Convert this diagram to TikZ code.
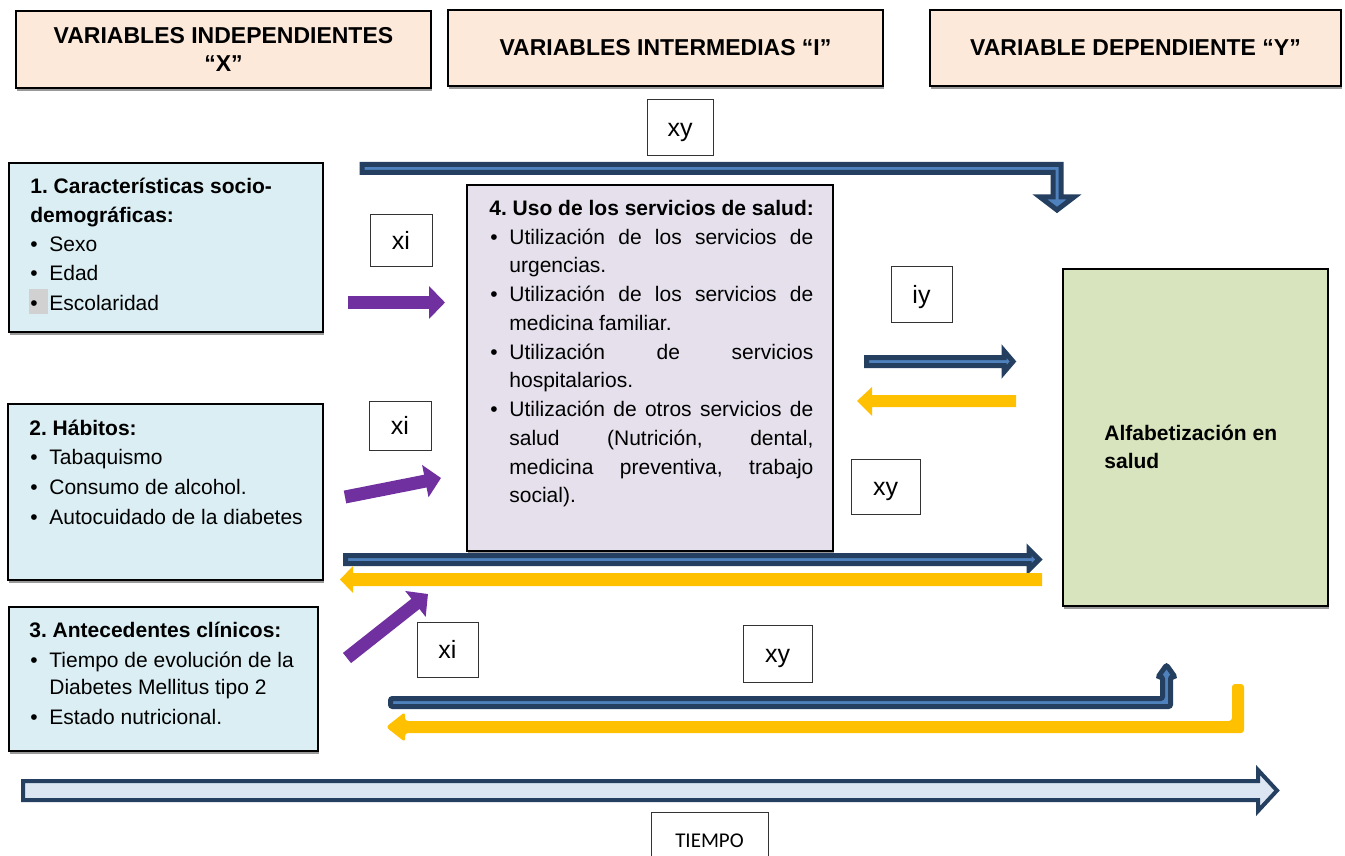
\documentclass[tikz,border=0pt]{standalone}
\usepackage{fontspec}
\setmainfont{Liberation Sans}
\newfontfamily\calfont{Carlito}
\usetikzlibrary{arrows.meta,shadows}
\definecolor{peach}{HTML}{FDE9D9}
\definecolor{lblue}{HTML}{DAEEF3}
\definecolor{lav}{HTML}{E5E0EC}
\definecolor{lgreen}{HTML}{D7E4BD}
\definecolor{bnavy}{HTML}{243F60}
\definecolor{bmid}{HTML}{4F81BD}
\definecolor{yel}{HTML}{FFC000}
\definecolor{purp}{HTML}{7030A0}
\definecolor{tfill}{HTML}{DCE6F2}
\frenchspacing
\newcommand\bodyfs{\fontsize{10.5pt}{13pt}\selectfont}
\newcommand\hdrfs{\fontsize{11.5pt}{14pt}\selectfont\bfseries}
\newcommand\labfs{\fontsize{12.5pt}{14pt}\selectfont}
\newcommand\bul{\makebox[9.5pt][l]{\textbullet}}
\newcommand\jline[1]{\makebox[152pt][s]{#1}}
\begin{document}
\begin{tikzpicture}[x=0.5pt,y=-0.5pt,
  shd/.style={drop shadow={shadow xshift=0.6pt,shadow yshift=-1.6pt,fill=black!40,opacity=1}},
  hdr/.style={shd,draw=black,line width=0.75pt,fill=peach,inner sep=0pt,align=center,font=\hdrfs},
  vbox/.style={shd,draw=black,line width=0.9pt,inner sep=0pt},
  lab/.style={draw=black!80,line width=0.5pt,fill=white,inner sep=0pt,font=\labfs,text height=10pt,text depth=1pt},
  ln/.style={anchor=base west,inner sep=0pt,font=\bodyfs},
  barrow/.style={fill=bmid,draw=bnavy,line width=2.5pt,line join=miter},
  yarrow/.style={fill=yel,draw=none},
  parrow/.style={draw=purp,line width=6.5pt,-{Triangle[width=16pt,length=8pt]}},
]
\clip (0,0) rectangle (1345,856);
\fill[white] (0,0) rectangle (1345,856);

% headers
\node[hdr,minimum width=207.5pt,minimum height=38.5pt] (h1) at (223.5,49.5) {VARIABLES INDEPENDIENTES\\“X”};
\node[hdr,minimum width=217.5pt,minimum height=38pt] (h2) at (665.5,48) {VARIABLES INTERMEDIAS “I”};
\node[hdr,minimum width=205.5pt,minimum height=38pt] (h3) at (1135.5,48) {VARIABLE DEPENDIENTE “Y”};

% left boxes
\node[vbox,fill=lblue,minimum width=157pt,minimum height=84.5pt] (b1) at (166,247.5) {};
\node[vbox,fill=lblue,minimum width=157.5pt,minimum height=88pt] (b2) at (165.5,492) {};
\node[vbox,fill=lblue,minimum width=154.5pt,minimum height=72pt] (b3) at (163.5,679) {};
% centre and right boxes
\node[vbox,fill=lav,minimum width=183pt,minimum height=183pt] (c) at (650,368) {};
\node[vbox,fill=lgreen,minimum width=132.5pt,minimum height=168.5pt] (g) at (1195.5,437.5) {};

% highlight behind bullet
\fill[black!18] (29,289) rectangle (48,314);

% box 1 text
\node[ln] (t11) at (30,193) {\bfseries 1. Características socio-};
\node[ln] (t12) at (30,222) {\bfseries demográficas:};
\node[ln] (t13) at (30,251) {\bul Sexo};
\node[ln] (t14) at (30,280) {\bul Edad};
\node[ln] (t15) at (30,310) {\bul Escolaridad};
% box 2 text
\node[ln] (t21) at (29,435) {\bfseries 2. Hábitos:};
\node[ln] (t22) at (30,464) {\bul Tabaquismo};
\node[ln] (t23) at (30,494) {\bul Consumo de alcohol.};
\node[ln] (t24) at (30,524) {\bul Autocuidado de la diabetes};
% box 3 text
\node[ln] (t31) at (29,637) {\bfseries 3. Antecedentes clínicos:};
\node[ln] (t32) at (30,667) {\bul Tiempo de evolución de la};
\node[ln] (t33) at (49,694) {Diabetes Mellitus tipo 2};
\node[ln] (t34) at (30,724) {\bul Estado nutricional.};
% centre text
\node[ln] (c0) at (489,215) {\bfseries 4. Uso de los servicios de salud:};
\node[ln] (c1) at (490,244) {\bul\jline{Utilización de los servicios de}};
\node[ln] (c2) at (509,272.75) {urgencias.};
\node[ln] (c3) at (490,301.5) {\bul\jline{Utilización de los servicios de}};
\node[ln] (c4) at (509,330.25) {medicina familiar.};
\node[ln] (c5) at (490,359) {\bul\jline{Utilización de servicios}};
\node[ln] (c6) at (509,387.75) {hospitalarios.};
\node[ln] (c7) at (490,416.5) {\bul\jline{Utilización de otros servicios de}};
\node[ln] (c8) at (509,445.25) {\jline{salud (Nutrición, dental,}};
\node[ln] (c9) at (509,474) {\jline{medicina preventiva, trabajo}};
\node[ln] (c10) at (509,502.75) {social).};
% green text
\node[ln] (g1) at (1104,440) {\bfseries Alfabetización en};
\node[ln] (g2) at (1104,468) {\bfseries salud};

% labels
\node[lab,minimum width=33pt,minimum height=28pt] (lxy1) at (680,128) {xy};
\node[lab,minimum width=31pt,minimum height=25.5pt] (lxi1) at (401,240.5) {xi};
\node[lab,minimum width=31pt,minimum height=24.5pt] (lxi2) at (400,425.5) {xi};
\node[lab,minimum width=30.5pt,minimum height=28pt] (liy) at (921.5,294) {iy};
\node[lab,minimum width=34.5pt,minimum height=27.5pt] (lxy2) at (885.5,486.5) {xy};
\node[lab,minimum width=30.5pt,minimum height=27.5pt] (lxi3) at (447.5,649.5) {xi};
\node[lab,minimum width=34.5pt,minimum height=28.5pt] (lxy3) at (777.5,653.5) {xy};
\node[draw=black!80,line width=0.5pt,fill=white,inner sep=0pt,minimum width=58.5pt,minimum height=29pt,font=\calfont\fontsize{10.5pt}{12pt}\selectfont] (ltiempo) at (709.5,841) {TIEMPO};

% blue arrows
\draw[barrow] (362,164.5) -- (1061,164.5) -- (1061,197) -- (1074,197) -- (1057,210) -- (1040,197) -- (1053,197) -- (1053,172.5) -- (362,172.5) -- cycle;
\draw[barrow] (866.5,357.5) -- (1004,357.5) -- (1004,351) -- (1013,361.5) -- (1004,372) -- (1004,365.5) -- (866.5,365.5) -- cycle;
\draw[barrow] (345.5,555.5) -- (1029,555.5) -- (1029,549.5) -- (1039,559.5) -- (1029,569.5) -- (1029,563.5) -- (345.5,563.5) -- cycle;
\draw[barrow,rounded corners=1pt] (390.5,706.5) -- (1170.5,706.5) -- (1170.5,677) -- (1175,677) -- (1166.5,665) -- (1158,677) -- (1162.5,677) -- (1162.5,698.5) -- (390.5,698.5) -- cycle;
% yellow arrows
\fill[yarrow] (1016,395) -- (872,395) -- (872,387) -- (857,401) -- (872,416) -- (872,407) -- (1016,407) -- cycle;
\fill[yarrow] (1042,573) -- (353,573) -- (353,566) -- (340,579.5) -- (353,593) -- (353,586) -- (1042,586) -- cycle;
\fill[yarrow,rounded corners=1.5pt] (1244,684) -- (1244,733) -- (405,733) -- (405,742) -- (386,727) -- (405,712) -- (405,721) -- (1232,721) -- (1232,684) -- cycle;
% time arrow
\draw[fill=tfill,draw=bnavy,line width=2pt,line join=miter] (23,781) -- (1258,781) -- (1258,770) -- (1277,790.5) -- (1258,811) -- (1258,800) -- (23,800) -- cycle;

% purple arrows
\coordinate (p1s) at (348,302.5); \coordinate (p1e) at (445,302.5);
\coordinate (p2s) at (345,497);   \coordinate (p2e) at (441,478);
\coordinate (p3s) at (347,658);   \coordinate (p3e) at (428,594);
\draw[parrow] (p1s) -- (p1e);
\draw[parrow] (p2s) -- (p2e);
\draw[parrow] (p3s) -- (p3e);
\end{tikzpicture}
\end{document}
